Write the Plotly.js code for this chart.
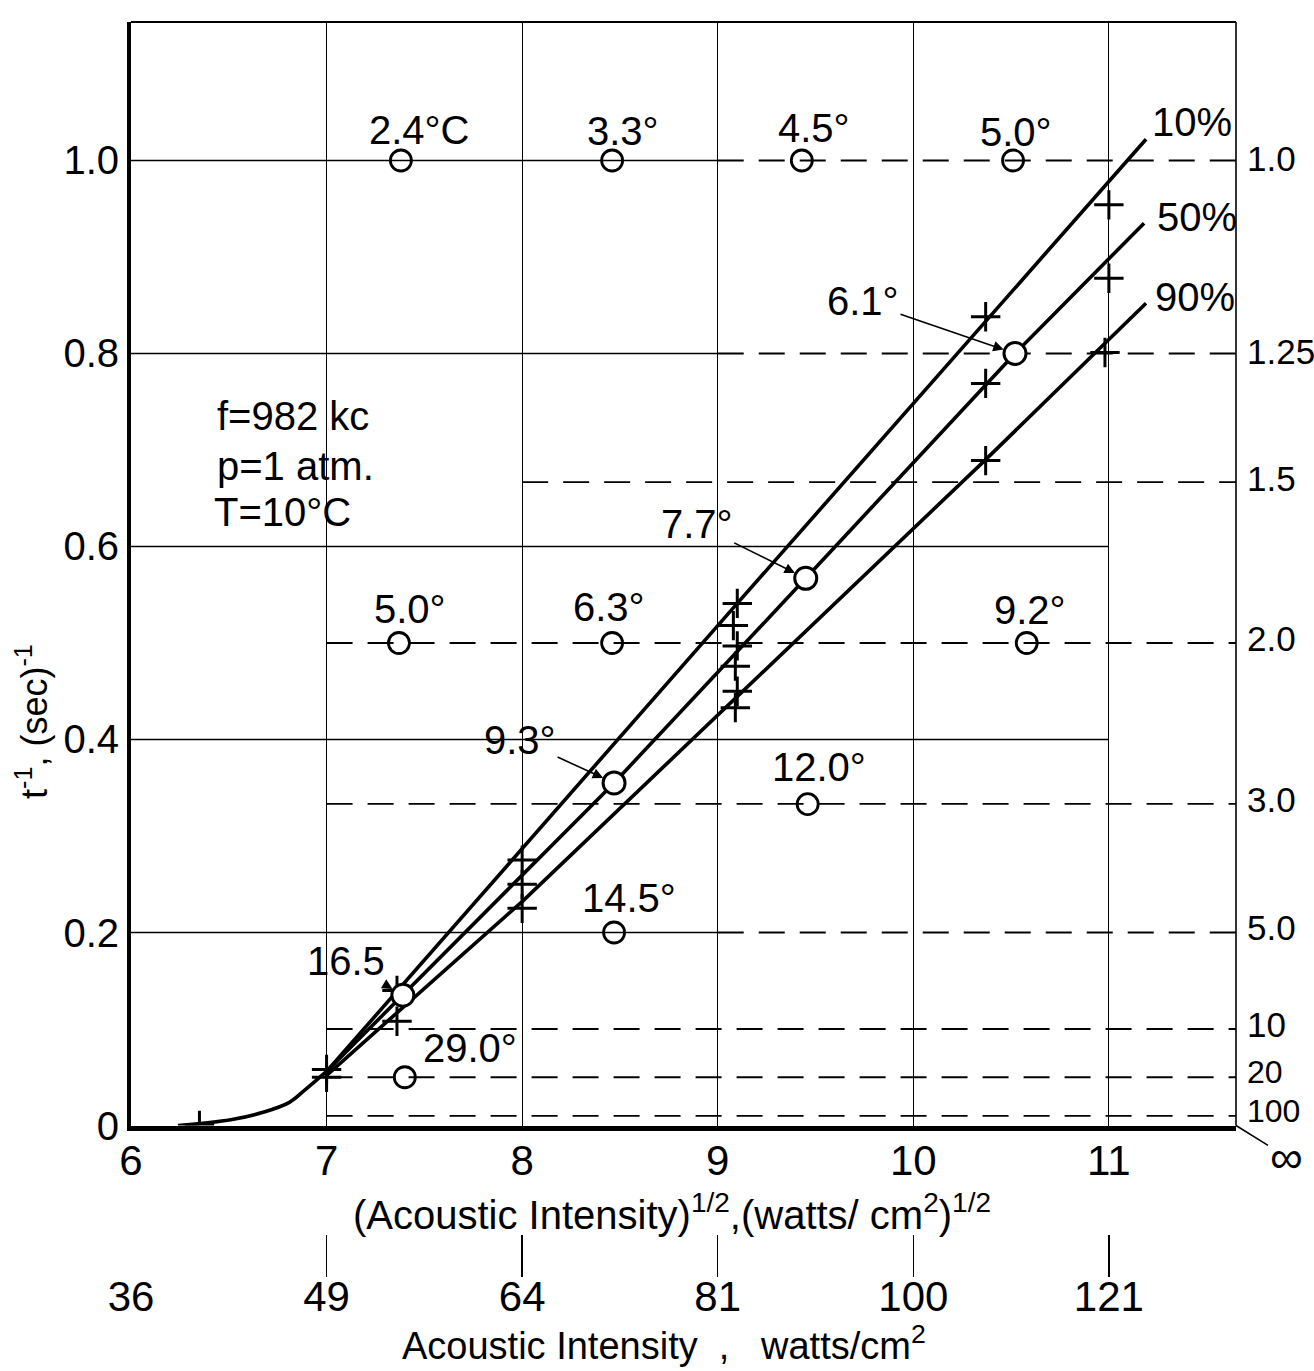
<!DOCTYPE html>
<html><head><meta charset="utf-8">
<script src="https://cdn.plot.ly/plotly-3.0.1.min.js"></script>
<style>html,body{margin:0;padding:0;background:#fff;}#chart{width:1314px;height:1371px;}</style>
</head><body><div id="chart"></div>
<script>
// ---------------- data ----------------
const xTickVals = [6, 7, 8, 9, 10, 11];
const xTickText = ['6', '7', '8', '9', '10', '11'];
const intensityTicks = [36, 49, 64, 81, 100, 121];
const yTickVals = [0, 0.2, 0.4, 0.6, 0.8, 1.0];
const yTickText = ['0', '0.2', '0.4', '0.6', '0.8', '1.0'];
const tTicks = [1.0, 1.25, 1.5, 2.0, 3.0, 5.0, 10, 20, 100];
const tTickText = ['1.0', '1.25', '1.5', '2.0', '3.0', '5.0', '10', '20', '100'];
const tLineStart = [9, 9, 8, 7, 7, 9, 7, 7, 7];
const gridY = [0.2, 0.4, 0.6, 0.8, 1.0];
const gridYEnd = [9, 11, 11, 9, 9];

const curveX = [6.24, 6.51, 6.68, 6.81, 6.89, 6.96, 7.0];
const curveY = [0.0, 0.006, 0.014, 0.024, 0.037, 0.049, 0.056];
const line10X = [7.0, 9.1, 11.19];
const line10Y = [0.056, 0.541, 1.022];
const line50X = [7.0, 7.39, 8.47, 9.45, 10.52, 11.18];
const line50Y = [0.056, 0.135, 0.355, 0.567, 0.80, 0.935];
const line90X = [7.0, 8.0, 10.37, 11.19];
const line90Y = [0.052, 0.232, 0.69, 0.852];
const lineLabels = ['10%', '50%', '90%'];

const plusX = [6.35, 7.0, 7.0, 7.36, 7.36, 8.0, 8.0, 8.0, 9.1, 9.08, 9.1, 9.09, 9.1, 9.09, 10.37, 10.37, 10.37, 11.0, 11.0, 10.98];
const plusY = [0.0, 0.058, 0.05, 0.14, 0.108, 0.275, 0.25, 0.225, 0.541, 0.518, 0.497, 0.476, 0.45, 0.433, 0.838, 0.769, 0.689, 0.954, 0.878, 0.801];

const ringX = [7.38, 8.46, 9.43, 10.51, 7.37, 8.46, 10.58, 9.46, 8.47, 7.40];
const ringY = [1.0, 1.0, 1.0, 1.0, 0.5, 0.5, 0.5, 0.333, 0.2, 0.05];
const ringLabel = ['2.4°C', '3.3°', '4.5°', '5.0°', '5.0°', '6.3°', '9.2°', '12.0°', '14.5°', '29.0°'];

const onLineX = [7.39, 8.47, 9.45, 10.52];
const onLineY = [0.135, 0.355, 0.567, 0.80];
const onLineLabel = ['16.5', '9.3°', '7.7°', '6.1°'];

const conditions = ['f=982 kc', 'p=1 atm.', 'T=10°C'];

// ---------------- layout geometry / styles ----------------
const FONT = 'Liberation Sans, Arial, sans-serif';
const PX = {l: 131, r: 1236, t: 22, bottom: 1125.5, paperBottom: 1277};
const H = PX.paperBottom - PX.t;
const W = PX.r - PX.l;
const yDom0 = (PX.paperBottom - PX.bottom) / H;
const paperX = px => (px - PX.l) / W;
const paperY = py => (PX.paperBottom - py) / H;
const XR = [6, 11.65], YR = [0, 1.1435];

const ringShift = [[19, 30], [11, 29], [12, 32], [3, 28], [11, 34], [-3, 36], [3, 33], [11, 37], [15, 35], [65, 29]];
const onLineArrow = [[-57, -34], [-94, -43], [-109, -54], [-152, -52]];
const lineLabelShift = [[4, 17], [11, 6], [7, 6]];
const tLabelYShift = [2, 2, 4, 4, 4, 5, 5, 5, 5];
const tLabelSize = [35, 35, 35, 35, 35, 35, 35, 32, 32];
const condPos = [[215, 416], [215, 466], [212, 512]];

const blk = '#000';
const lineStyle = {color: blk, width: 3.6};

const traces = [
  {x: curveX, y: curveY, mode: 'lines', line: Object.assign({shape: 'spline', smoothing: 1}, lineStyle)},
  {x: line10X, y: line10Y, mode: 'lines', line: lineStyle},
  {x: line50X, y: line50Y, mode: 'lines', line: lineStyle},
  {x: line90X, y: line90Y, mode: 'lines', line: lineStyle},
  {x: plusX, y: plusY, mode: 'markers',
   marker: {symbol: 'cross-thin-open', size: 21, color: blk, line: {color: blk, width: 3}}},
  {x: ringX, y: ringY, mode: 'markers',
   marker: {symbol: 'circle-open', size: 21, color: blk, line: {color: blk, width: 2.8}}},
  {x: onLineX, y: onLineY, mode: 'markers',
   marker: {symbol: 'circle', size: 22, color: '#fff', line: {color: blk, width: 3}}},
  {x: intensityTicks.map(Math.sqrt), y: intensityTicks.map(() => null), xaxis: 'x2', yaxis: 'y',
   mode: 'markers', marker: {opacity: 0}}
].map(t => Object.assign({showlegend: false, hoverinfo: 'skip'}, t));

const shapes = [];
gridY.forEach((v, i) => shapes.push({type: 'line', xref: 'x', yref: 'y', x0: XR[0], x1: gridYEnd[i], y0: v, y1: v,
  line: {color: blk, width: 1.5}, layer: 'below'}));
tTicks.forEach((t, i) => shapes.push({type: 'line', xref: 'x', yref: 'y', x0: tLineStart[i], x1: XR[1], y0: 1 / t, y1: 1 / t,
  line: {color: blk, width: 1.8, dash: '26px,15px'}, layer: 'below'}));
shapes.push({type: 'line', xref: 'paper', yref: 'paper', x0: 0, x1: 1, y0: 1, y1: 1, line: {color: blk, width: 2.2}});
shapes.push({type: 'line', xref: 'paper', yref: 'paper', x0: 1, x1: 1, y0: yDom0, y1: 1, line: {color: blk, width: 1.6}});

const ann = [];
const f40 = {family: FONT, size: 40, color: blk};
ringLabel.forEach((s, i) => ann.push({x: ringX[i], y: ringY[i], xref: 'x', yref: 'y', text: s, showarrow: false,
  xshift: ringShift[i][0], yshift: ringShift[i][1], font: f40}));
onLineLabel.forEach((s, i) => ann.push({x: onLineX[i], y: onLineY[i], xref: 'x', yref: 'y', text: s, showarrow: true,
  ax: onLineArrow[i][0], ay: onLineArrow[i][1], arrowhead: 2, arrowsize: 1.3, arrowwidth: 1.6, arrowcolor: blk,
  standoff: 12, font: f40}));
[[line10X, line10Y], [line50X, line50Y], [line90X, line90Y]].forEach((p, i) => {
  const n = p[0].length - 1;
  ann.push({x: p[0][n], y: p[1][n], xref: 'x', yref: 'y', text: lineLabels[i], showarrow: false,
    xanchor: 'left', xshift: lineLabelShift[i][0], yshift: lineLabelShift[i][1], font: f40});
});
tTicks.forEach((t, i) => ann.push({x: 1, y: 1 / t, xref: 'paper', yref: 'y', text: tTickText[i], showarrow: false,
  xanchor: 'left', xshift: 9, yshift: tLabelYShift[i], font: {family: FONT, size: tLabelSize[i], color: blk}}));
ann.push({x: 1, y: 0, xref: 'paper', yref: 'y', text: '∞', showarrow: true, arrowhead: 0, arrowwidth: 1.5,
  arrowcolor: blk, ax: 50, ay: 31, font: {family: FONT, size: 46, color: blk}});
conditions.forEach((s, i) => ann.push({x: paperX(condPos[i][0]), y: paperY(condPos[i][1]), xref: 'paper', yref: 'paper',
  text: s, showarrow: false, xanchor: 'left', yanchor: 'middle', font: f40}));
ann.push({x: paperX(672), y: paperY(1212), xref: 'paper', yref: 'paper', xanchor: 'center', yanchor: 'middle', showarrow: false,
  text: '(Acoustic Intensity)<sup>1/2</sup>,(watts/ cm<sup>2</sup>)<sup>1/2</sup>', font: f40});
ann.push({x: paperX(664), y: paperY(1369), xref: 'paper', yref: 'paper', xanchor: 'center', yanchor: 'bottom', showarrow: false,
  text: 'Acoustic Intensity\u00a0\u00a0,\u00a0\u00a0\u00a0watts/cm<sup>2</sup>', font: {family: FONT, size: 38, color: blk}});
ann.push({x: paperX(32), y: paperY(722), xref: 'paper', yref: 'paper', xanchor: 'center', yanchor: 'middle',
  showarrow: false, textangle: -90,
  text: 't<sup>-1</sup>, (sec)<sup>-1</sup>', font: {family: FONT, size: 36, color: blk}});

const layout = {
  width: 1314, height: 1371,
  margin: {l: PX.l, r: 1314 - PX.r, t: PX.t, b: 1371 - PX.paperBottom},
  paper_bgcolor: '#fff', plot_bgcolor: '#fff',
  font: {family: FONT, color: blk},
  xaxis: {range: XR, tickvals: xTickVals, ticktext: xTickText, showgrid: true, gridcolor: blk, gridwidth: 1.2,
    zeroline: false, showline: true, linecolor: blk, linewidth: 5, ticks: '', ticklabelstandoff: -6,
    tickfont: {family: FONT, size: 42, color: blk}},
  xaxis2: {range: XR, overlaying: 'x', anchor: 'free', position: 0, side: 'bottom',
    tickvals: intensityTicks.map(Math.sqrt), ticktext: intensityTicks.map(String),
    ticks: 'inside', ticklen: 42, tickwidth: 1.5, tickcolor: blk, showline: false, showgrid: false, zeroline: false,
    ticklabelstandoff: -9, tickfont: {family: FONT, size: 42, color: blk}},
  yaxis: {range: YR, domain: [yDom0, 1], tickvals: yTickVals, ticktext: yTickText, showgrid: false, zeroline: false,
    showline: true, linecolor: blk, linewidth: 4, ticks: '', ticklabelstandoff: 0,
    tickfont: {family: FONT, size: 40, color: blk}},
  shapes: shapes,
  annotations: ann
};
Plotly.newPlot('chart', traces, layout, {staticPlot: true});
</script></body></html>
